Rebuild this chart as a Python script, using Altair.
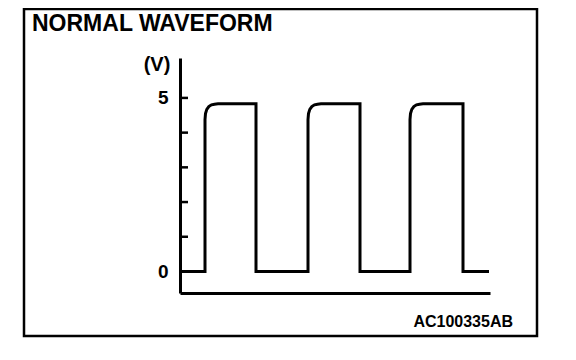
import altair as alt
import pandas as pd

# Waveform (time in arbitrary units, volts)
wave_t = [0, 25, 25, 25.5, 26.8, 28.8, 31.5, 34.5, 38, 76, 76,
          128, 128, 128.5, 129.8, 131.8, 134.5, 137.5, 141, 180, 180,
          230, 230, 230.5, 231.8, 233.8, 236.5, 239.5, 243, 283, 283, 309]
wave_v = [0, 0, 4.38, 4.55, 4.67, 4.75, 4.80, 4.82, 4.83, 4.83, 0,
          0, 4.38, 4.55, 4.67, 4.75, 4.80, 4.82, 4.83, 4.83, 0,
          0, 4.38, 4.55, 4.67, 4.75, 4.80, 4.82, 4.83, 4.83, 0, 0]
tick_values = [1, 2, 3, 4, 5]
label_values = [0, 5]
title_text = "NORMAL WAVEFORM"
unit_text = "(V)"
code_text = "AC100335AB"

wave = pd.DataFrame({"t": wave_t, "v": wave_v, "i": list(range(len(wave_t)))})
ticks = pd.DataFrame({"v": tick_values})

FONT = "Liberation Sans"

xscale = alt.Scale(domain=[0, 310], nice=False, zero=False)
yscale = alt.Scale(domain=[-0.62, 6.15], nice=False, zero=False)
yaxis = alt.Axis(values=label_values, ticks=False, domainWidth=3, domainColor="black",
                 labelFontSize=19, labelFontWeight="bold", labelFont=FONT,
                 labelColor="black", labelPadding=12, title=None, grid=False)
xaxis = alt.Axis(labels=False, ticks=False, domainWidth=3, domainColor="black",
                 title=None, grid=False)

line = alt.Chart(wave).mark_line(color="black", strokeWidth=3, strokeJoin="miter").encode(
    x=alt.X("t:Q", scale=xscale, axis=xaxis),
    y=alt.Y("v:Q", scale=yscale, axis=yaxis),
    order=alt.Order("i:Q"),
)

tick_rules = alt.Chart(ticks).mark_rule(color="black", strokeWidth=2.5).encode(
    y=alt.Y("v:Q", scale=yscale, axis=yaxis),
    x=alt.value(0),
    x2=alt.value(8),
)

border = alt.Chart(pd.DataFrame({"a": [0]})).mark_rect(
    fillOpacity=0, stroke="black", strokeWidth=2.5
).encode(x=alt.value(-156), x2=alt.value(357), y=alt.value(-49), y2=alt.value(278))

title = alt.Chart(pd.DataFrame({"a": [0]})).mark_text(
    text=title_text, align="left", baseline="alphabetic", fontSize=23,
    fontWeight="bold", font=FONT, color="black"
).encode(x=alt.value(-148), y=alt.value(-27))

unit = alt.Chart(pd.DataFrame({"a": [0]})).mark_text(
    text=unit_text, align="center", baseline="middle", fontSize=20,
    fontWeight="bold", font=FONT, color="black"
).encode(x=alt.value(-23), y=alt.value(7))

code = alt.Chart(pd.DataFrame({"a": [0]})).mark_text(
    text=code_text, align="right", baseline="alphabetic", fontSize=16,
    fontWeight="bold", font=FONT, color="black"
).encode(x=alt.value(333), y=alt.value(269))

chart = alt.layer(border, tick_rules, line, title, unit, code).properties(
    width=310, height=235,
    autosize=alt.AutoSizeParams(type="none"),
    padding={"left": 172, "top": 50, "right": 78, "bottom": 59},
    background="white",
).configure_view(stroke=None)

chart.save("out.html", embed_options={"renderer": "svg", "actions": False})
